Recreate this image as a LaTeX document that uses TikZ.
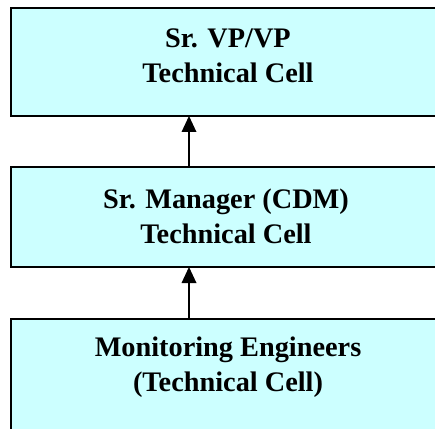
\documentclass[tikz,border=0pt]{standalone}
\usepackage{fontspec}
\setmainfont{Liberation Serif}[BoldFont={Liberation Serif Bold}]
\usetikzlibrary{arrows.meta}
\definecolor{boxfill}{HTML}{CCFFFF}
\begin{document}
\begin{tikzpicture}[x=1pt,y=1pt,
  box/.style={draw=black, line width=1.5pt, fill=boxfill, inner sep=0pt, outer sep=0pt, anchor=south west},
  lbl/.style={font=\fontsize{28.3}{35}\selectfont\bfseries, align=center, inner sep=0pt},
  conn/.style={line width=2pt},
  headfill/.style={fill=black}]
\useasboundingbox (0,0) rectangle (435,428);
\clip (0,0) rectangle (435,428);
\node[box, minimum width=470pt, minimum height=108pt] (topbox) at (11,312) {};
\node[box, minimum width=470pt, minimum height=100pt] (midbox) at (11,161) {};
\node[box, minimum width=470pt, minimum height=129pt] (botbox) at (11,-20) {};
\node[lbl] (toptext) at (228,372.25) {Sr. VP/VP\\Technical Cell};
\node[lbl] (midtext) at (226,211.5) {Sr. Manager (CDM)\\Technical Cell};
\node[lbl] (bottext) at (228,60.5) {Monitoring Engineers\\(Technical Cell)};
\coordinate (a1) at (189,0);
\draw[conn] (midbox.north -| a1) -- ([yshift=-10pt]topbox.south -| a1);
\fill[headfill] (topbox.south -| a1) -- ++(-7.5,-16) -- ++(15,0) -- cycle;
\draw[conn] (botbox.north -| a1) -- ([yshift=-10pt]midbox.south -| a1);
\fill[headfill] (midbox.south -| a1) -- ++(-7.5,-16) -- ++(15,0) -- cycle;
\end{tikzpicture}
\end{document}
